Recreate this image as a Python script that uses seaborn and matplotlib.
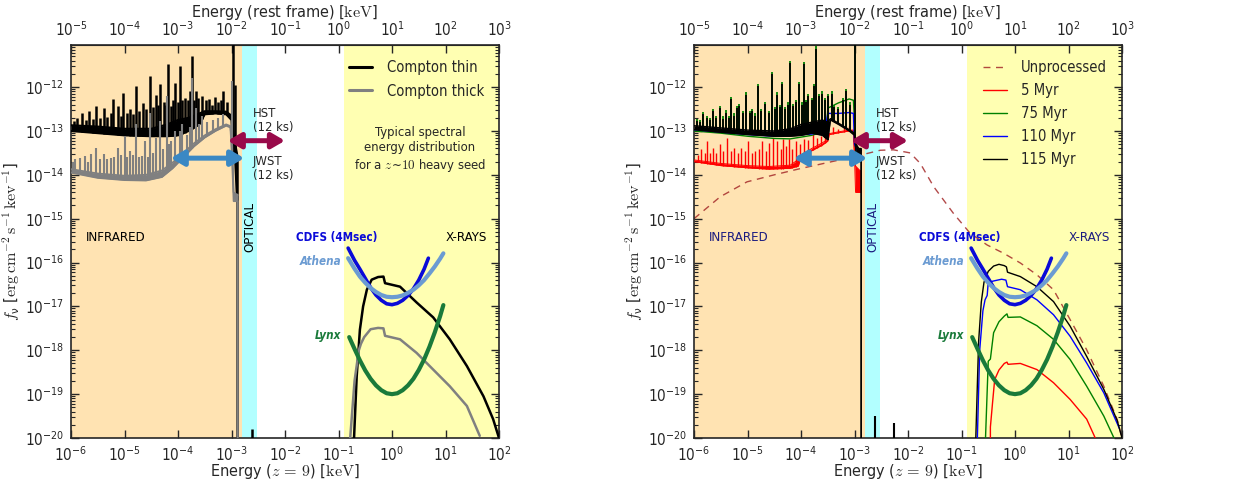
import numpy as np
import matplotlib
matplotlib.use("Agg")
import matplotlib.pyplot as plt
from matplotlib.lines import Line2D
from matplotlib.ticker import LogLocator, NullFormatter, NullLocator, FixedLocator
import seaborn as sns

# ------------------------------------------------------------------ data
# (all spectral values are log10 of energy [keV, z=9 frame] and log10 of f_nu)
band_ir = [1e-6, 1.6e-3]
band_opt = [1.6e-3, 3.0e-3]
band_xray = [0.125, 1e2]
xticks_obs = [1e-6, 1e-5, 1e-4, 1e-3, 1e-2, 1e-1, 1e0, 1e1, 1e2]
xticks_rest = [1e-5, 1e-4, 1e-3, 1e-2, 1e-1, 1e0, 1e1, 1e2, 1e3]
yticks = [1e-20, 1e-19, 1e-18, 1e-17, 1e-16, 1e-15, 1e-14, 1e-13, 1e-12]

# ---- left panel: Compton thin (black) IR/optical envelope
thin_ir_x = [-6, -5.5, -5.0, -4.5, -4.2, -4.0, -3.8, -3.6, -3.5, -3.3, -3.1, -3.0, -2.97, -2.93, -2.9, -2.885, -2.885]
thin_ir_lo = [-13.0, -13.05, -13.1, -13.12, -13.12, -13.1, -13.0, -12.85, -12.62, -12.6, -12.62, -12.75, -13.6, -13.7, -14.5, -14.5, -21]
thin_ir_hi = [-12.87, -12.9, -12.95, -12.95, -12.85, -12.75, -12.7, -12.6, -12.55, -12.55, -12.56, -12.65, -13.0, -13.3, -13.5, -13.6, -21]
thin_line_x = [-5.95, -5.88, -5.79, -5.72, -5.66, -5.59, -5.53, -5.45, -5.39, -5.33, -5.26, -5.21, -5.13, -5.07,
               -5.02, -4.95, -4.9, -4.85, -4.79, -4.72, -4.66, -4.6, -4.53, -4.47, -4.42, -4.38, -4.34, -4.27,
               -4.23, -4.19, -4.13, -4.09, -4.05, -4.0, -3.96, -3.92, -3.87, -3.82, -3.78, -3.74, -3.7, -3.66,
               -3.62, -3.55, -3.48, -3.42, -3.36, -3.3, -3.25, -3.2, -3.16, -3.08, -2.98, -2.93]
thin_line_y = [-12.78, -12.70, -12.58, -12.75, -12.55, -12.72, -12.43, -12.7, -12.47, -12.68, -12.58, -12.28, -12.43, -12.65,
               -12.13, -12.6, -12.5, -12.62, -11.98, -12.55, -12.36, -12.5, -11.75, -12.45, -12.17, -12.4, -11.94, -12.35,
               -12.4, -11.48, -12.43, -12.3, -11.90, -12.35, -11.52, -12.3, -12.24, -12.3, -12.1, -11.30, -12.3, -12.09,
               -12.25, -12.20, -12.3, -12.28, -12.4, -12.23, -12.35, -12.3, -12.09, -12.35, -10.5, -11.96]
thin_uv_x = [-2.61]
thin_uv_y = [-19.8]
thin_x_E = [-0.72, -0.66, -0.60, -0.54, -0.47, -0.38, -0.26, -0.16, -0.13, 0.15, 0.46, 0.77, 1.08, 1.40, 1.71, 1.89, 2.0]
thin_x_f = [-20.3, -18.6, -17.53, -17.0, -16.62, -16.39, -16.33, -16.32, -16.47, -16.55, -16.91, -17.25, -17.75, -18.36, -19.05, -19.57, -20.0]

# ---- left panel: Compton thick (gray)
thick_ir_x = [-6, -5.5, -5.0, -4.6, -4.3, -4.1, -3.9, -3.7, -3.5, -3.3, -3.1, -3.02, -2.99, -2.96, -2.9, -2.885, -2.885]
thick_ir_lo = [-13.95, -14.07, -14.12, -14.13, -14.05, -13.85, -13.6, -13.35, -13.15, -13.0, -12.88, -12.92, -13.6, -14.6, -14.6, -14.6, -21]
thick_ir_hi = [-13.87, -13.97, -14.02, -14.0, -13.9, -13.72, -13.5, -13.28, -13.1, -12.96, -12.85, -12.89, -13.3, -14.4, -14.45, -14.45, -21]
thick_line_x = [-5.97, -5.93, -5.84, -5.74, -5.68, -5.63, -5.53, -5.46, -5.39, -5.32, -5.26, -5.19, -5.13, -5.06, -5.0,
                -4.95, -4.89, -4.84, -4.79, -4.73, -4.68, -4.61, -4.57, -4.53, -4.47, -4.42, -4.34, -4.28, -4.21,
                -4.17, -4.13, -4.05, -3.97, -3.92, -3.84, -3.78, -3.74, -3.67, -3.6, -3.55, -3.45, -3.35, -3.25, -3.16, -3.0]
thick_line_y = [-13.7, -13.64, -13.61, -13.57, -13.7, -13.53, -13.38, -13.65, -13.53, -13.65, -13.61, -13.6, -13.38, -13.55, -13.11,
                -13.6, -13.45, -13.55, -12.85, -13.6, -13.57, -13.23, -13.6, -12.58, -13.5, -13.17, -12.77, -13.4, -12.20,
                -13.3, -13.23, -13.0, -13.0, -12.85, -13.1, -12.9, -11.8, -12.47, -12.85, -12.66, -12.8, -12.75, -12.7, -12.62, -11.85]
thick_x_E = [-0.80, -0.70, -0.62, -0.58, -0.52, -0.40, -0.26, -0.16, -0.13, 0.15, 0.46, 0.77, 1.08, 1.40, 1.64]
thick_x_f = [-20.3, -18.7, -18.0, -17.85, -17.7, -17.52, -17.49, -17.5, -17.67, -17.75, -18.06, -18.44, -18.82, -19.27, -19.95]

# ---- right panel: unprocessed spectrum
unp_E = [-6, -5.51, -5.01, -4.5, -4.02, -3.5, -3.02, -2.52, -2.27, -1.96, -1.77, -1.52, -1.15, -0.84, -0.52, -0.21,
         0.10, 0.41, 0.72, 1.03, 1.34, 1.66, 1.91, 2.0]
unp_f = [-15.0, -14.5, -14.16, -14.0, -13.86, -13.72, -13.59, -13.44, -13.43, -13.5, -13.74, -14.27, -14.88, -15.33, -15.6, -15.79,
         -16.01, -16.28, -16.62, -17.30, -17.99, -18.82, -19.58, -20.0]

# ---- right panel: 5 Myr (red)
r5_ir_x = [-6, -5.5, -5.0, -4.6, -4.2, -4.05, -4.0, -3.8, -3.6, -3.5, -3.47, -3.3, -3.1, -3.02, -3.0, -2.98, -2.9, -2.88]
r5_ir_lo = [-13.70, -13.79, -13.84, -13.87, -13.85, -13.8, -13.6, -13.45, -13.32, -13.23, -13.08, -13.04, -13.0, -13.0, -13.6, -14.4, -14.4, -14.4]
r5_ir_hi = [-13.66, -13.74, -13.79, -13.81, -13.78, -13.65, -13.55, -13.4, -13.27, -13.19, -13.06, -13.02, -12.98, -12.98, -13.55, -13.8, -13.9, -13.9]
r5_line_x = [-5.92, -5.86, -5.8, -5.75, -5.7, -5.65, -5.58, -5.52, -5.45, -5.38, -5.31, -5.25, -5.18, -5.12, -5.05, -4.99,
             -4.92, -4.86, -4.79, -4.73, -4.66, -4.59, -4.52, -4.44, -4.38, -4.33, -4.28, -4.23, -4.16, -4.09, -4.02,
             -3.94, -3.86, -3.78, -3.7, -3.62, -3.55, -3.4, -3.3, -3.2, -3.1]
r5_line_y = [-13.55, -13.42, -13.5, -13.23, -13.5, -13.38, -13.5, -13.30, -13.45, -13.15, -13.45, -13.38, -13.5, -13.38, -13.45, -13.23,
             -13.5, -13.45, -13.4, -13.23, -13.45, -13.27, -13.15, -13.23, -13.4, -13.19, -13.35, -13.19, -13.4, -13.23, -13.3,
             -13.19, -13.2, -13.08, -13.15, -13.11, -13.05, -12.9, -12.95, -12.9, -12.88]
r5_x_E = [-0.46, -0.46, -0.42, -0.38, -0.3, -0.2, -0.15, -0.13, 0.10, 0.41, 0.72, 1.03, 1.34, 1.50]
r5_x_f = [-20.3, -19.75, -19.2, -18.67, -18.45, -18.3, -18.27, -18.32, -18.3, -18.44, -18.74, -19.12, -19.57, -20.0]

# ---- right panel: 75 Myr (green)
g75_ir_x = [-6, -5.5, -5.0, -4.5, -4.2, -3.8, -3.6, -3.52, -3.50, -3.3, -3.1, -3.02, -3.0, -2.97, -2.9, -2.87]
g75_ir_f = [-13.0, -13.05, -13.12, -13.17, -13.18, -13.1, -13.02, -13.0, -12.48, -12.36, -12.27, -12.3, -12.8, -13.6, -13.7, -13.7]
g75_x_E = [-0.56, -0.50, -0.46, -0.43, -0.40, -0.3, -0.2, -0.15, -0.13, 0.10, 0.41, 0.72, 1.03, 1.34, 1.66, 1.85]
g75_x_f = [-20.3, -18.25, -18.2, -17.9, -17.6, -17.35, -17.22, -17.17, -17.25, -17.24, -17.44, -17.75, -18.21, -18.82, -19.5, -20.0]

# ---- right panel: 110 Myr (blue)
b110_ir_x = [-6, -5.0, -4.5, -3.8, -3.55, -3.5, -3.3, -3.1, -3.02, -3.0, -2.95, -2.87]
b110_ir_f = [-12.97, -13.08, -13.12, -13.07, -13.0, -12.6, -12.6, -12.58, -12.6, -13.3, -13.45, -13.45]
b110_x_E = [-0.71, -0.66, -0.6, -0.56, -0.52, -0.50, -0.4, -0.25, -0.17, -0.14, 0.10, 0.41, 0.72, 1.03, 1.34, 1.66, 1.95]
b110_x_f = [-20.3, -18.0, -17.1, -16.85, -16.75, -16.45, -16.42, -16.38, -16.4, -16.55, -16.62, -16.85, -17.19, -17.68, -18.29, -18.97, -19.78]

# ---- right panel: 115 Myr (black)
b115_ir_x = [-6, -5.5, -5.0, -4.5, -4.2, -4.0, -3.8, -3.6, -3.5, -3.45, -3.3, -3.1, -3.0, -2.97, -2.92, -2.875, -2.875]
b115_ir_lo = [-12.97, -13.03, -13.08, -13.12, -13.12, -13.1, -13.05, -13.1, -13.2, -12.75, -12.85, -13.0, -13.1, -13.5, -13.6, -13.6, -21]
b115_ir_hi = [-12.88, -12.93, -12.98, -13.0, -12.95, -12.85, -12.8, -12.75, -12.8, -12.72, -12.82, -12.97, -13.05, -13.3, -13.4, -13.4, -21]
rs_line_x = [-5.94, -5.88, -5.83, -5.75, -5.7, -5.65, -5.58, -5.52, -5.46, -5.41, -5.35, -5.31, -5.25, -5.2, -5.15, -5.08,
             -5.02, -4.96, -4.91, -4.86, -4.81, -4.74, -4.67, -4.6, -4.54, -4.49, -4.44, -4.4, -4.36, -4.3, -4.25, -4.21,
             -4.15, -4.1, -4.04, -3.99, -3.95, -3.9, -3.86, -3.8, -3.76, -3.72, -3.66, -3.6, -3.55, -3.5, -3.42, -3.38,
             -3.3, -3.22, -3.16, -3.08, -2.99]
rs_line_y = [-12.77, -12.8, -12.62, -12.70, -12.75, -12.55, -12.7, -12.47, -12.72, -12.58, -12.7, -12.28, -12.65, -12.47, -12.43, -12.6,
             -12.17, -12.6, -12.55, -12.65, -11.98, -12.55, -12.39, -12.6, -11.71, -12.5, -12.17, -12.45, -11.94, -12.5, -12.4, -11.45,
             -12.43, -12.35, -11.94, -12.4, -11.48, -12.35, -12.2, -12.3, -11.98, -11.12, -12.2, -12.15, -12.3, -12.2, -12.15, -12.45,
             -12.5, -12.3, -12.1, -12.4, -10.5]
b115_uv_x = [-2.61, -2.27]
b115_uv_y = [-19.5, -19.65]
b115_x_E = [-0.74, -0.68, -0.63, -0.58, -0.5, -0.4, -0.3, -0.2, -0.16, -0.14, 0.10, 0.41, 0.72, 1.03, 1.34, 1.66, 1.91, 2.0]
b115_x_f = [-20.3, -17.8, -16.9, -16.45, -16.2, -16.08, -16.04, -16.07, -16.1, -16.22, -16.32, -16.55, -16.89, -17.45, -18.14, -18.89, -19.6, -20.0]

# ---- X-ray sensitivity curves
cdfs_E = [-0.82, -0.7, -0.6, -0.5, -0.4, -0.3, -0.2, -0.1, 0.0, 0.1, 0.2, 0.3, 0.4, 0.5, 0.6, 0.68]
cdfs_f = [-15.67, -15.95, -16.15, -16.36, -16.57, -16.74, -16.86, -16.94, -16.96, -16.93, -16.86, -16.75, -16.6, -16.4, -16.15, -15.9]
athena_E = [-0.82, -0.7, -0.6, -0.5, -0.4, -0.3, -0.2, -0.1, 0.0, 0.1, 0.2, 0.3, 0.4, 0.5, 0.6, 0.7, 0.8, 0.9, 0.96]
athena_f = [-15.9, -16.14, -16.32, -16.46, -16.58, -16.67, -16.74, -16.78, -16.79, -16.78, -16.75, -16.69, -16.62, -16.52, -16.4,
            -16.25, -16.09, -15.91, -15.79]
lynx_E = [-0.8, -0.7, -0.6, -0.5, -0.4, -0.3, -0.2, -0.1, 0.0, 0.1, 0.2, 0.3, 0.4, 0.5, 0.6, 0.7, 0.8, 0.9, 0.96]
lynx_f = [-17.7, -17.97, -18.23, -18.46, -18.65, -18.8, -18.91, -18.98, -19.0, -18.98, -18.91, -18.8, -18.65, -18.45, -18.21,
          -17.92, -17.59, -17.22, -16.97]

# ---- observing windows (double arrows), keV and f_nu
jwst_E = [7.3e-5, 1.73e-3]
jwst_f = 2.4e-14
hst_E = [8.5e-4, 1.0e-2]
hst_f = 6.0e-14

# ------------------------------------------------------------------ style
sns.set_style("ticks")
plt.rcParams["font.family"] = ["DejaVu Sans"]
plt.rcParams["font.stretch"] = "condensed"
plt.rcParams["mathtext.fontset"] = "cm"
plt.rcParams["mathtext.default"] = "regular"

C_ORANGE, C_CYAN, C_YELLOW = "orange", "cyan", "yellow"
C_HST, C_JWST = "#990a4a", "#3a88c4"
C_CDFS, C_ATH, C_LYNX = "#0a0ad8", "#6b9bd2", "#1a7a3a"
C_NAVY = "#1c1c80"
FS_TICK, FS_LAB, FS_REG, FS_INST, FS_NOTE, FS_LEG = 11, 11.6, 9.5, 8.4, 9.4, 10.6

fig = plt.figure(figsize=(12.4, 4.9), dpi=100)
axL = fig.add_axes([71 / 1240, 1 - 438 / 490, 428 / 1240, 393 / 490])
axR = fig.add_axes([694 / 1240, 1 - 438 / 490, 428 / 1240, 393 / 490])


def L(v):
    return 10 ** np.asarray(v, dtype=float)


def band(ax, x, lo, hi, color, lw, z):
    X = L(x)
    ax.fill_between(X, L(lo), L(hi), color=color, lw=0, zorder=z)
    sns.lineplot(x=X, y=L(lo), ax=ax, color=color, lw=lw, sort=False, estimator=None, zorder=z)
    sns.lineplot(x=X, y=L(hi), ax=ax, color=color, lw=lw, sort=False, estimator=None, zorder=z)


def spikes(ax, x, y, env_x, env_lo, color, lw, z):
    base = np.interp(x, env_x, env_lo)
    ax.vlines(L(x), L(base), L(y), color=color, lw=lw, zorder=z)


def curve(ax, x, y, color, lw, z, **kw):
    sns.lineplot(x=L(x), y=L(y), ax=ax, color=color, lw=lw, sort=False, estimator=None, zorder=z, **kw)


def setup(ax, text_color):
    ax.set_xscale("log")
    ax.set_yscale("log")
    ax.set_xlim(1e-6, 1e2)
    ax.set_ylim(1e-20, 10 ** -11.04)
    ax.axvspan(*band_ir, color=C_ORANGE, alpha=0.3, lw=0, zorder=0)
    ax.axvspan(*band_opt, color=C_CYAN, alpha=0.3, lw=0, zorder=0)
    ax.axvspan(*band_xray, color=C_YELLOW, alpha=0.3, lw=0, zorder=0)
    ax.xaxis.set_major_locator(FixedLocator(xticks_obs))
    ax.xaxis.set_minor_locator(NullLocator())
    ax.yaxis.set_major_locator(FixedLocator(yticks))
    ax.yaxis.set_minor_locator(LogLocator(base=10, subs=np.arange(2, 10), numticks=20))
    ax.yaxis.set_minor_formatter(NullFormatter())
    ax.tick_params(which="both", direction="in", right=True, top=False, labelsize=FS_TICK, pad=5)
    ax.tick_params(which="major", length=6, width=1)
    ax.tick_params(which="minor", length=3, width=0.8)
    for s in ax.spines.values():
        s.set_linewidth(1.2)
    sec = ax.secondary_xaxis("top", functions=(lambda e: e * 10, lambda e: e / 10))
    sec.xaxis.set_major_locator(FixedLocator(xticks_rest))
    sec.xaxis.set_minor_locator(NullLocator())
    sec.tick_params(direction="in", length=6, width=1, labelsize=FS_TICK, pad=4)
    sec.set_xlabel(r"Energy (rest frame) $[\mathrm{keV}]$", fontsize=FS_LAB, labelpad=3)
    ax.set_xlabel(r"Energy $(\mathit{z}\,\mathrm{=}\,\mathrm{9})$ $[\mathrm{keV}]$", fontsize=FS_LAB, labelpad=-1)
    ax.set_ylabel(r"$\mathit{f}_{\nu}\ [\mathrm{erg\,cm^{-2}\,s^{-1}\,kev^{-1}}]$", fontsize=FS_LAB, labelpad=2)
    # region labels
    ax.text(10 ** -5.72, 10 ** -15.42, "INFRARED", color=text_color, fontsize=FS_REG, va="center", ha="left")
    ax.text(10 ** -2.66, 10 ** -15.2, "OPTICAL", color=text_color, fontsize=FS_REG, va="center", ha="center", rotation=90)
    ax.text(10 ** 1.78, 10 ** -15.42, "X-RAYS", color=text_color, fontsize=FS_REG, va="center", ha="right")
    ax.text(10 ** -0.27, 10 ** -15.42, "CDFS (4Msec)", color=C_CDFS, fontsize=FS_INST, fontweight="bold", va="center", ha="right")
    ax.text(10 ** -0.95, 10 ** -15.97, "Athena", color=C_ATH, fontsize=FS_INST, fontweight="bold", style="italic", va="center", ha="right")
    ax.text(10 ** -0.95, 10 ** -17.66, "Lynx", color=C_LYNX, fontsize=FS_INST, fontweight="bold", style="italic", va="center", ha="right")
    ax.text(10 ** -2.6, 10 ** -12.76, "HST\n(12 ks)", fontsize=FS_NOTE, va="center", ha="left", linespacing=1.15)
    ax.text(10 ** -2.6, 10 ** -13.86, "JWST\n(12 ks)", fontsize=FS_NOTE, va="center", ha="left", linespacing=1.15)
    # sensitivity curves
    curve(ax, cdfs_E, cdfs_f, C_CDFS, 2.6, 6)
    curve(ax, athena_E, athena_f, C_ATH, 3.0, 6)
    curve(ax, lynx_E, lynx_f, C_LYNX, 3.0, 6)
    # observing windows
    for E, f, c in ((jwst_E, jwst_f, C_JWST), (hst_E, hst_f, C_HST)):
        ax.annotate("", xy=(E[1], f), xytext=(E[0], f), zorder=8,
                    arrowprops=dict(arrowstyle="<|-|>,head_length=0.55,head_width=0.32", lw=3.6,
                                    color=c, shrinkA=0, shrinkB=0, mutation_scale=14))


# ------------------------------------------------------------------ left panel
setup(axL, "black")
band(axL, thick_ir_x, thick_ir_lo, thick_ir_hi, "gray", 1.3, 4)
spikes(axL, thick_line_x, thick_line_y, thick_ir_x, thick_ir_lo, "gray", 1.5, 4)
band(axL, thin_ir_x, thin_ir_lo, thin_ir_hi, "black", 1.5, 3)
spikes(axL, thin_line_x, thin_line_y, thin_ir_x, thin_ir_lo, "black", 1.8, 3)
axL.vlines(L(thin_uv_x), 1e-21, L(thin_uv_y), color="black", lw=1.8, zorder=3)
curve(axL, thin_x_E, thin_x_f, "black", 1.8, 5)
curve(axL, thick_x_E, thick_x_f, "gray", 1.8, 5)
axL.text(10 ** 0.52, 10 ** -13.43, "Typical spectral\nenergy distribution\nfor a $\\mathit{z}\\!\\sim\\!\\mathrm{10}$ heavy seed",
         fontsize=FS_NOTE, ha="center", va="center", linespacing=1.2)
axL.legend(handles=[Line2D([], [], color="black", lw=2.2), Line2D([], [], color="gray", lw=2.2)],
           labels=["Compton thin", "Compton thick"], loc="upper right", frameon=False, fontsize=FS_LEG,
           handlelength=1.6, handletextpad=1.0, labelspacing=0.6, borderaxespad=0.6)

# ------------------------------------------------------------------ right panel
setup(axR, C_NAVY)
curve(axR, unp_E, unp_f, "brown", 1.0, 2, alpha=0.85, linestyle=(0, (5, 4)))
band(axR, r5_ir_x, r5_ir_lo, r5_ir_hi, "red", 0.7, 3)
spikes(axR, r5_line_x, r5_line_y, r5_ir_x, r5_ir_lo, "red", 1.0, 3)
curve(axR, g75_ir_x, g75_ir_f, "green", 1.0, 3)
curve(axR, b110_ir_x, b110_ir_f, "blue", 1.0, 3)
spikes(axR, rs_line_x, [v + 0.05 for v in rs_line_y], b115_ir_x, b115_ir_lo, "green", 1.3, 3)
band(axR, b115_ir_x, b115_ir_lo, b115_ir_hi, "black", 1.0, 4)
spikes(axR, rs_line_x, rs_line_y, b115_ir_x, b115_ir_lo, "black", 1.3, 4)
axR.vlines(L(b115_uv_x), 1e-21, L(b115_uv_y), color="black", lw=1.5, zorder=4)
curve(axR, r5_x_E, r5_x_f, "red", 1.0, 5)
curve(axR, g75_x_E, g75_x_f, "green", 1.0, 5)
curve(axR, b110_x_E, b110_x_f, "blue", 1.0, 5)
curve(axR, b115_x_E, b115_x_f, "black", 1.0, 5)
axR.legend(handles=[Line2D([], [], color="brown", lw=1.0, alpha=0.85, linestyle=(0, (5, 4))),
                    Line2D([], [], color="red", lw=1.0), Line2D([], [], color="green", lw=1.0),
                    Line2D([], [], color="blue", lw=1.0), Line2D([], [], color="black", lw=1.0)],
           labels=["Unprocessed", "5 Myr", "75 Myr", "110 Myr", "115 Myr"], loc="upper right",
           frameon=False, fontsize=FS_LEG, handlelength=1.6, handletextpad=1.0, labelspacing=0.55,
           borderaxespad=0.6)

fig.savefig("out.png", dpi=100)
